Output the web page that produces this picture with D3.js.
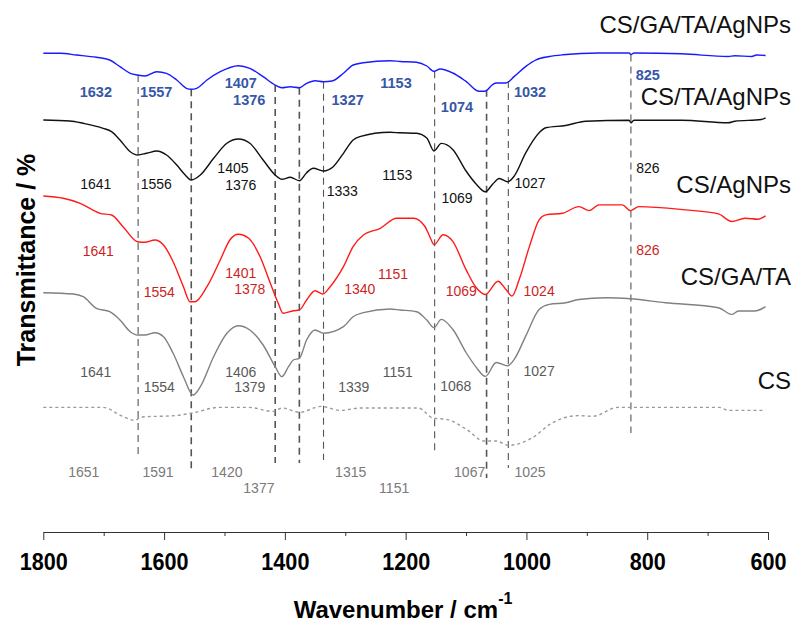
<!DOCTYPE html>
<html>
<head>
<meta charset="utf-8">
<script src="https://cdn.jsdelivr.net/npm/d3@7"></script>
<style>
    body { margin: 0; background: #fff; }
    text { font-family: "Liberation Sans", Arial, sans-serif; }
</style>
</head>
<body>
<div id="ftir_chart"></div>
<script>

// FTIR spectra, wavenumber (cm-1) vs transmittance (stacked, arbitrary offset)
var csGaTaAgWn = [1800,1772,1745,1712,1690,1673,1656,1644,1632,1612,1596,1579,1563,1555,1546,1529,1507,1477,1458,1436,1416,1405,1391,1376,1364,1350,1336,1322,1303,1287,1270,1226,1209,1182,1165,1153,1143,1122,1100,1078,1069,1056,1050,1034,1020,1001,984,962,940,880,830,827,822,743,666,655,627,619,604];
var csGaTaAgT = [478.7,478.7,477,474.7,472,465.3,458.7,457,456,460.3,458.7,452,443.7,442.7,443.7,452,460.3,466.3,463.7,455.3,447,444.3,445.3,444.3,448.7,451.3,450.3,451,458.7,467,469.3,471.3,470.5,469.7,466,460.6,463,459,450.6,440.7,440.7,447.3,449,449,455.6,465.6,472.2,475.5,477.2,479,479,477.5,479,478.2,475.5,476.2,475.5,477,476.5];

var csTaAgWn = [1800,1756,1734,1701,1687,1673,1656,1644,1629,1612,1596,1579,1565,1555,1540,1518,1496,1477,1458,1436,1416,1405,1391,1376,1364,1353,1336,1320,1303,1287,1276,1226,1209,1182,1165,1153,1141,1122,1100,1083,1068,1056,1045,1031,1020,1001,979,968,935,902,830,827,822,743,666,655,611,604];
var csTaAgT = [412,411,408.7,403.7,400.3,392,380.3,377,378.7,381,377,367,357,352,357,373.7,388.7,393,388.7,372,357,352.7,354.7,351.3,359.3,363.7,361,365.3,378.7,392,395.3,399.7,399.2,398.7,394,381,388.6,382.6,361,347.8,340.2,347.8,353.5,350.2,356.1,379.3,399.2,404.2,406.5,410.8,411.8,409.2,411.8,411.8,409.2,410.8,412.5,414.2];

var csAgWn = [1800,1767,1739,1706,1687,1668,1644,1632,1615,1601,1585,1568,1557,1549,1529,1507,1491,1477,1460,1441,1425,1411,1403,1386,1376,1364,1350,1337,1325,1303,1287,1270,1242,1215,1187,1168,1160,1153,1138,1122,1100,1083,1068,1047,1034,1024,1012,995,979,968,940,913,896,880,841,828,814,737,682,660,638,616,604];
var csAgT = [336,333.7,328.7,318.7,317,305.3,290.3,289.7,292,287,270.3,245.3,230.3,230.3,245.3,272,292,297.7,293.7,275.3,250.3,228.7,218.7,221.3,222,232,241.3,238,245.3,265.3,285.3,297,303.7,313.7,313.8,305.5,295.3,287.3,297.2,290.6,262.4,244.2,237.5,250.8,242.5,235.9,252.4,285.6,312.1,317.1,318.8,325.4,321.4,327.1,327.1,321.4,325.4,322.1,318.1,310.5,313.8,312.8,316.1];

var csGaTaWn = [1800,1750,1734,1712,1690,1673,1656,1644,1632,1615,1601,1585,1568,1552,1540,1518,1496,1477,1458,1436,1416,1405,1394,1386,1376,1364,1350,1336,1303,1287,1270,1226,1209,1182,1165,1153,1141,1122,1100,1083,1068,1050,1031,1020,1001,979,962,935,913,869,828,770,682,660,649,622,604];
var csGaTaT = [239.3,238,235.3,223.7,220.3,212,200.3,197,197,199.3,195.3,178.7,155.3,137,145.3,175.3,198.7,206.3,202,187,165.3,155.3,165.3,172,173.7,192,202,198.7,205.3,215.3,219.3,223,222,220.3,212,204.4,212.6,202.7,179.5,164.6,155.6,169.5,166.2,172.8,196.1,222.6,227.6,229.2,232.5,234.2,233.2,229.2,224.3,217.6,221,221,225.3];

var csWn = [1800,1701,1669,1649,1637,1581,1553,1509,1460,1420,1404,1376,1340,1308,1275,1179,1155,1131,1099,1070,1050,1030,986,962,914,890,849,681,665,604];
var csT = [124.6,124.6,115.7,111.7,115,116.4,119,124.6,124.6,120.6,124,119.7,125.6,121.6,124,124,114,112.4,102.5,91,91,86.7,95.9,107.4,116.4,115.7,124.6,124.6,121.6,121.6];

// sample names and the level of their caption
var sampleNames = ["CS/GA/TA/AgNPs", "CS/TA/AgNPs", "CS/AgNPs", "CS/GA/TA", "CS"];
var sampleNameT = [499, 427, 339, 247, 143];

// band assignments: label text, label wavenumber, label level
var csGaTaAgPeaks = ["1632","1557","1407","1376","1327","1153","1074","1032","825"];
var csGaTaAgPeakWn = [1713,1613,1473,1459,1296,1216,1115,994,799];
var csGaTaAgPeakT = [440.3,440.3,449.3,432,432,449.3,425,440.7,457];

var csTaAgPeaks = ["1641","1556","1405","1376","1333","1153","1069","1027","826"];
var csTaAgPeakWn = [1713,1613,1486,1473,1305,1214,1115,994,799];
var csTaAgPeakT = [348,348,364.3,347,341,357,333.6,349.5,364.4];

var csAgPeaks = ["1641","1554","1401","1378","1340","1151","1069","1024","826"];
var csAgPeakWn = [1709,1608,1473,1458,1276,1221,1108,979,799];
var csAgPeakT = [281.3,240.3,258.7,242.7,242.7,258,240.8,240.8,282.3];

var csGaTaPeaks = ["1641","1554","1406","1379","1339","1151","1068","1027"];
var csGaTaPeakWn = [1713,1608,1473,1458,1286,1213,1117,979];
var csGaTaPeakT = [160.3,145.3,160.3,145.3,145.3,160.3,146,161.2];

var csPeaks = ["1651","1591","1420","1377","1315","1151","1067","1025"];
var csPeakWn = [1733,1610,1496,1443,1291,1219,1094,994];
var csPeakT = [59.6,59.6,59.6,44,59.6,44,59.6,59.6];

// dashed guide lines: wavenumber and lower end
var markWn = [1643,1555,1416,1376,1336,1152,1066,1030,827];
var markEndT = [77,62,69,69,72,80,54,64,99];

// x axis ticks
var majorTicks = [1800,1600,1400,1200,1000,800,600];
var minorTicks = [1700,1500,1300,1100,900,700];

var chart_width = 798;
var chart_height = 632;

var x = d3.scaleLinear().domain([1800, 600]).range([43.3, 768]);
var y = d3.scaleLinear().domain([0, 500]).range([532, 32]);

var svg = d3.select("#ftir_chart")
    .append("svg")
    .attr("width", chart_width)
    .attr("height", chart_height);

// linear lookup of a spectrum value at a given wavenumber
function valueAt(wn, t, w) {
    for (var i = 0; i < wn.length - 1; i++) {
        if (w <= wn[i] && w >= wn[i + 1]) {
            var f = (wn[i] - w) / (wn[i] - wn[i + 1]);
            return t[i] + f * (t[i + 1] - t[i]);
        }
    }
    return t[t.length - 1];
}

// guide lines, drawn under the spectra
var boldMarks = [1555, 1416, 1376, 1066];
svg.append("g").selectAll("line")
    .data(markWn)
    .enter()
    .append("line")
    .attr("x1", function(d) { return x(d); })
    .attr("x2", function(d) { return x(d); })
    .attr("y1", function(d) { return y(valueAt(csGaTaAgWn, csGaTaAgT, d)); })
    .attr("y2", function(d, i) { return y(markEndT[i]); })
    .style("stroke", "#555")
    .style("stroke-width", function(d) { return boldMarks.indexOf(d) >= 0 ? 1.6 : 1.1; })
    .style("stroke-dasharray", "7,5");

var line = d3.line()
    .x(function(d) { return x(d[0]); })
    .y(function(d) { return y(d[1]); })
    .curve(d3.curveMonotoneX);

var spectra = [
    { wn: csGaTaAgWn, t: csGaTaAgT, color: "#1a1aff", dash: null },
    { wn: csTaAgWn, t: csTaAgT, color: "#111", dash: null },
    { wn: csAgWn, t: csAgT, color: "#ff1a1a", dash: null },
    { wn: csGaTaWn, t: csGaTaT, color: "#808080", dash: null },
    { wn: csWn, t: csT, color: "#9a9a9a", dash: "3,3" }
];

spectra.forEach(function(s) {
    svg.append("path")
        .datum(d3.zip(s.wn, s.t))
        .attr("d", line)
        .style("fill", "none")
        .style("stroke", s.color)
        .style("stroke-width", 1.4)
        .style("stroke-dasharray", s.dash);
});

// peak labels
var peakSets = [
    { text: csGaTaAgPeaks, wn: csGaTaAgPeakWn, t: csGaTaAgPeakT, color: "#3658a6", weight: "bold", size: 14.5 },
    { text: csTaAgPeaks, wn: csTaAgPeakWn, t: csTaAgPeakT, color: "#111", weight: "normal", size: 14 },
    { text: csAgPeaks, wn: csAgPeakWn, t: csAgPeakT, color: "#cc1f1f", weight: "normal", size: 14 },
    { text: csGaTaPeaks, wn: csGaTaPeakWn, t: csGaTaPeakT, color: "#5a5a5a", weight: "normal", size: 14 },
    { text: csPeaks, wn: csPeakWn, t: csPeakT, color: "#7a7a7a", weight: "normal", size: 14 }
];

peakSets.forEach(function(p) {
    svg.append("g").selectAll("text")
        .data(p.text)
        .enter()
        .append("text")
        .attr("x", function(d, i) { return x(p.wn[i]); })
        .attr("y", function(d, i) { return y(p.t[i]); })
        .attr("dy", "0.36em")
        .attr("text-anchor", "middle")
        .style("font-size", p.size + "px")
        .style("font-weight", p.weight)
        .style("fill", p.color)
        .text(function(d) { return d; });
});

// sample captions on the right
svg.append("g").selectAll("text")
    .data(sampleNames)
    .enter()
    .append("text")
    .attr("x", chart_width - 7)
    .attr("y", function(d, i) { return y(sampleNameT[i]); })
    .attr("text-anchor", "end")
    .style("font-size", "24px")
    .style("fill", "#111")
    .text(function(d) { return d; });

// x axis
var xAxis = d3.axisBottom(x)
    .tickValues(majorTicks)
    .tickSize(8)
    .tickSizeOuter(0)
    .tickFormat(d3.format("d"));

var gx = svg.append("g")
    .attr("transform", "translate(0," + y(0) + ")")
    .call(xAxis);

gx.select(".domain").style("stroke", "#333");
gx.selectAll(".tick line").style("stroke", "#333");
gx.selectAll(".tick text")
    .attr("y", 0)
    .attr("dy", 0)
    .attr("transform", "translate(0,38) scale(0.9,1)")
    .style("font-family", "'Liberation Sans', Arial, sans-serif")
    .style("font-size", "24px")
    .style("font-weight", "bold")
    .style("fill", "#000");

var gMinor = svg.append("g")
    .attr("transform", "translate(0," + y(0) + ")")
    .call(d3.axisBottom(x).tickValues(minorTicks).tickSize(4).tickFormat(""));
gMinor.select(".domain").remove();
gMinor.selectAll(".tick line").style("stroke", "#333");

// axis titles
var xTitle = svg.append("text")
    .attr("x", 403)
    .attr("y", 618)
    .attr("text-anchor", "middle")
    .style("font-size", "24px")
    .style("font-weight", "bold")
    .text("Wavenumber / cm");
xTitle.append("tspan")
    .attr("dy", "-14")
    .style("font-size", "16px")
    .text("-1");

svg.append("text")
    .attr("transform", "translate(35,260) rotate(-90)")
    .attr("text-anchor", "middle")
    .style("font-size", "25px")
    .style("font-weight", "bold")
    .text("Transmittance / %");

</script>
</body>
</html>
